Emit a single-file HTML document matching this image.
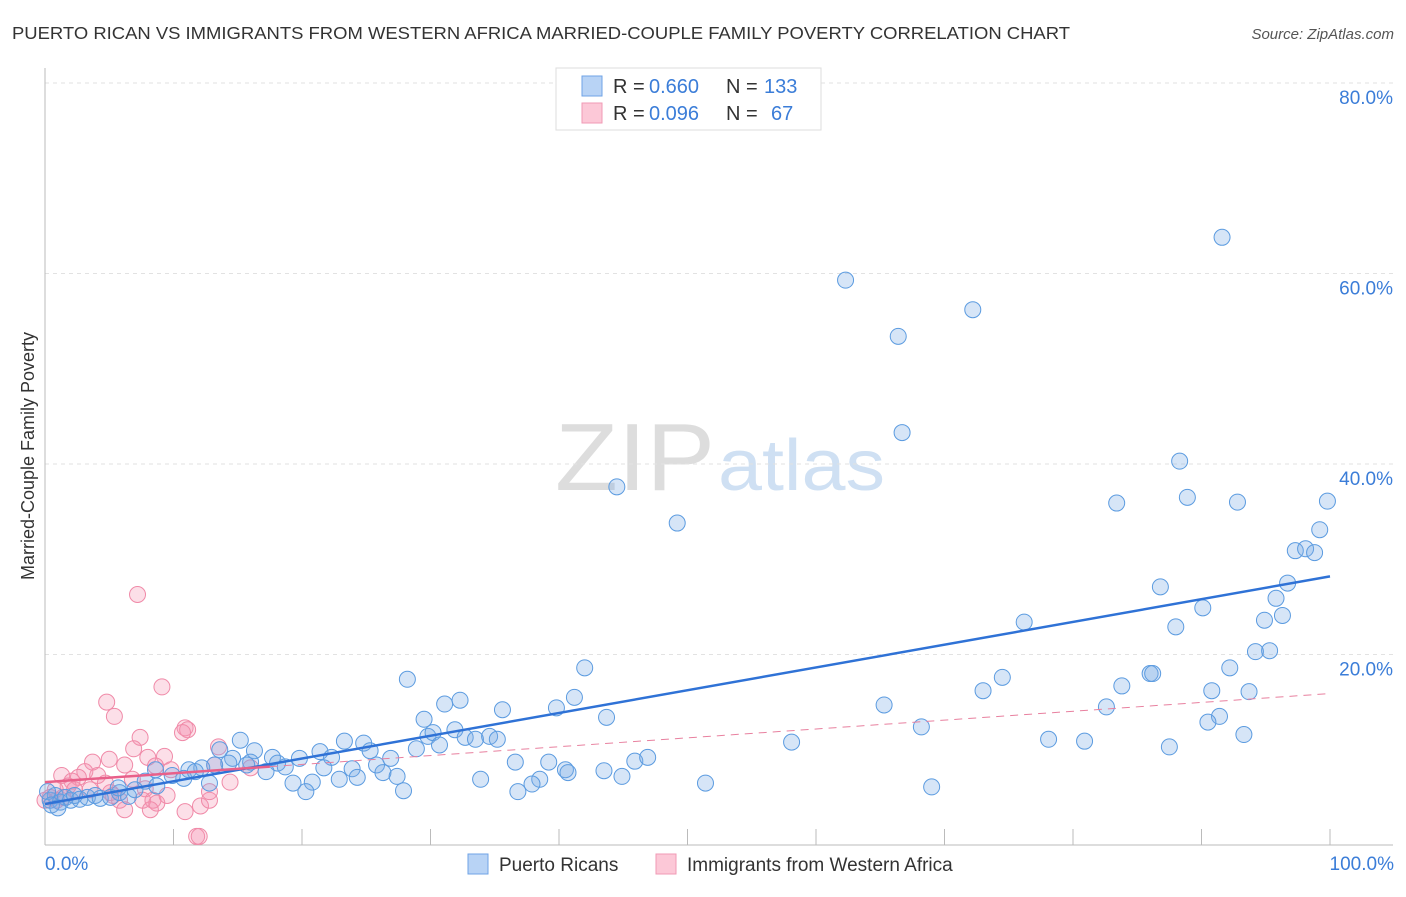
<!DOCTYPE html>
<html><head><meta charset="utf-8"><style>
body{margin:0;background:#fff;font-family:"Liberation Sans",sans-serif;}
svg text{font-family:"Liberation Sans",sans-serif;}
</style></head><body>
<svg id="chart" width="1406" height="892" viewBox="0 0 1406 892">
<text x="12" y="39" font-size="17.5" fill="#333" textLength="1058" lengthAdjust="spacingAndGlyphs">PUERTO RICAN VS IMMIGRANTS FROM WESTERN AFRICA MARRIED-COUPLE FAMILY POVERTY CORRELATION CHART</text>
<text x="1394" y="39" font-size="15" fill="#555" font-style="italic" text-anchor="end">Source: ZipAtlas.com</text>
<text x="555" y="490" font-size="96" fill="#ddd" textLength="160" lengthAdjust="spacingAndGlyphs" font-family="Liberation Serif">ZIP</text>
<text x="718" y="490" font-size="72" fill="#cfe0f3" textLength="167" lengthAdjust="spacingAndGlyphs">atlas</text>
<g id="grid"></g>
<g id="axes"></g>
<g id="marks"></g>
<text x="34" y="456" font-size="18" fill="#333" text-anchor="middle" transform="rotate(-90 34 456)">Married-Couple Family Poverty</text>
<text x="45" y="870" font-size="19" fill="#3b7dd8">0.0%</text>
<text x="1394" y="870" font-size="19" fill="#3b7dd8" text-anchor="end">100.0%</text>
<g>
<rect x="556" y="68" width="265" height="62" fill="#fff" stroke="#ddd"/>
<rect x="582" y="76" width="20" height="20" fill="#b8d3f5" stroke="#6fa3e6"/>
<rect x="582" y="103" width="20" height="20" fill="#fcc8d7" stroke="#f09ab4"/>
<text x="613" y="93" font-size="20" fill="#333">R =</text>
<text x="649" y="93" font-size="20" fill="#3b7dd8">0.660</text>
<text x="726" y="93" font-size="20" fill="#333">N =</text>
<text x="764" y="93" font-size="20" fill="#3b7dd8">133</text>
<text x="613" y="120" font-size="20" fill="#333">R =</text>
<text x="649" y="120" font-size="20" fill="#3b7dd8">0.096</text>
<text x="726" y="120" font-size="20" fill="#333">N =</text>
<text x="771" y="120" font-size="20" fill="#3b7dd8">67</text>
</g>
<g>
<rect x="468" y="854" width="20" height="20" fill="#b8d3f5" stroke="#6fa3e6"/>
<text x="499" y="871" font-size="19" fill="#333">Puerto Ricans</text>
<rect x="656" y="854" width="20" height="20" fill="#fcc8d7" stroke="#f09ab4"/>
<text x="687" y="871" font-size="19" fill="#333">Immigrants from Western Africa</text>
</g>
</svg>
<script>
const yTicks=[20,40,60,80];
const yTickLabels=["20.0%","40.0%","60.0%","80.0%"];
const xTicks=[10,20,30,40,50,60,70,80,90,100];
const blueX=[91.6,62.3,66.4,72.2,66.7,44.5,49.2,88.3,83.4,88.9,92.8,99.8,99.2,97.3,98.1,98.8,96.7,86.8,95.8,90.1,94.9,96.3,88.0,76.2,94.2,95.3,92.2,86.0,86.2,74.5,73.0,83.8,90.8,93.7,82.6,65.3,91.4,90.5,68.2,78.1,80.9,93.3,87.5,58.1,69.0,51.4,42.0,41.2,28.2,39.8,43.7,32.3,31.1,35.6,29.5,29.8,30.2,31.9,32.7,33.5,34.6,35.2,30.7,28.9,23.3,24.8,21.4,22.3,19.8,25.3,26.9,25.8,26.3,27.4,27.9,21.7,23.9,24.3,22.9,20.8,19.3,20.3,15.2,16.3,13.6,14.6,16.0,17.7,18.1,18.7,17.2,15.7,14.3,13.2,12.2,11.2,10.8,11.7,12.8,9.9,8.6,7.8,8.7,36.6,36.8,38.5,39.2,40.5,40.7,43.5,44.9,45.9,46.9,33.9,37.9,0.4,0.8,1.2,1.6,2.0,2.3,2.7,3.3,3.9,4.3,5.1,5.8,6.5,7.0,5.7,0.2,0.5,1.0];
const blueY=[63.8,59.3,53.4,56.2,43.3,37.6,33.8,40.3,35.9,36.5,36.0,36.1,33.1,30.9,31.1,30.7,27.5,27.1,25.9,24.9,23.6,24.1,22.9,23.4,20.3,20.4,18.6,18.0,18.0,17.6,16.2,16.7,16.2,16.1,14.5,14.7,13.5,12.9,12.4,11.1,10.9,11.6,10.3,10.8,6.1,6.5,18.6,15.5,17.4,14.4,13.4,15.2,14.8,14.2,13.2,11.4,11.8,12.1,11.3,11.1,11.4,11.1,10.5,10.1,10.9,10.7,9.8,9.2,9.1,9.9,9.1,8.4,7.6,7.2,5.7,8.1,8.0,7.1,6.9,6.6,6.5,5.6,11.0,9.9,10.0,9.1,8.7,9.2,8.6,8.2,7.7,8.4,8.6,8.4,8.1,7.9,7.0,7.7,6.5,7.3,7.9,6.7,6.2,8.7,5.6,6.9,8.7,7.9,7.6,7.8,7.2,8.8,9.2,6.9,6.4,4.7,5.2,4.5,5.0,4.7,5.2,4.8,5.0,5.2,4.9,5.0,5.5,5.1,5.8,6.0,5.6,4.2,3.9];
const pinkX=[7.2,9.1,4.8,5.4,7.4,10.9,11.1,10.7,13.5,6.9,8.0,9.3,5.0,3.7,6.2,8.6,9.8,16.0,13.2,14.4,3.1,4.1,2.6,1.3,2.1,1.8,4.7,6.8,7.8,5.1,0.8,0.4,0.9,1.4,0,7.6,8.4,8.7,9.5,5.8,5.3,6.2,8.2,10.9,12.1,12.8,12.8,11.8,12.0,3.5,2.3];
const pinkY=[26.3,16.6,15.0,13.5,11.3,12.3,12.1,11.8,10.3,10.1,9.2,9.3,9.0,8.7,8.4,8.3,7.9,8.1,8.4,6.6,7.7,7.3,7.1,7.3,6.7,6.2,6.5,6.9,5.9,5.5,5.8,5.0,4.7,5.0,4.7,4.7,4.7,4.4,5.2,4.7,5.2,3.7,3.7,3.5,4.1,4.7,5.6,0.9,0.9,5.8,5.8];
const blueTrend=[4.3,28.2];
const pinkTrend=[6.6,15.9];
const NS="http://www.w3.org/2000/svg";
const X0=45,X1=1330,Y0=845,Y80=83;
const sx=v=>X0+(X1-X0)*v/100;
const sy=v=>Y0-(Y0-Y80)*v/80;
function mk(tag,attrs,parent){const e=document.createElementNS(NS,tag);for(const k in attrs)e.setAttribute(k,attrs[k]);parent.appendChild(e);return e;}
const grid=document.getElementById('grid'),axes=document.getElementById('axes'),marks=document.getElementById('marks');
yTicks.forEach((t,i)=>{
 const l=mk('line',{x1:X0,x2:1393,y1:sy(t),y2:sy(t),stroke:'#e2e2e2','stroke-dasharray':'4,4'},grid);
 
 
 const tx=mk('text',{x:1393,y:sy(t)+21,'font-size':19,fill:'#3b7dd8','text-anchor':'end'},grid);
 tx.textContent=yTickLabels[i];
 
 
});
const ya=mk('line',{x1:X0,x2:X0,y1:68,y2:Y0,stroke:'#bbb'},axes);


const xa=mk('line',{x1:X0,x2:1393,y1:Y0,y2:Y0,stroke:'#bbb'},axes);


xTicks.forEach(t=>{
 const l=mk('line',{x1:sx(t),x2:sx(t),y1:Y0-16,y2:Y0,stroke:'#bbb'},axes);
 
 
});
pinkX.forEach((x,i)=>{
 const c=mk('circle',{cx:sx(x),cy:sy(pinkY[i]),r:8,fill:'rgba(245,150,180,0.3)',stroke:'#f08aa8','stroke-width':1},marks);
 
 
});
blueX.forEach((x,i)=>{
 const c=mk('circle',{cx:sx(x),cy:sy(blueY[i]),r:8,fill:'rgba(120,170,230,0.3)',stroke:'#5b9be0','stroke-width':1},marks);
 
 
});
const bt=mk('line',{x1:sx(0),y1:sy(blueTrend[0]),x2:sx(100),y2:sy(blueTrend[1]),stroke:'#2f72d6','stroke-width':2.5},marks);


const pf=v=>pinkTrend[0]+(pinkTrend[1]-pinkTrend[0])*v/100;
const pt=mk('line',{x1:sx(0),y1:sy(pf(0)),x2:sx(17.5),y2:sy(pf(17.5)),stroke:'#e8608a','stroke-width':2.5},marks);


const pd=mk('line',{x1:sx(17.5),y1:sy(pf(17.5)),x2:sx(100),y2:sy(pf(100)),stroke:'#e8809f','stroke-width':1,'stroke-dasharray':'8,6'},marks);


</script>
</body></html>
